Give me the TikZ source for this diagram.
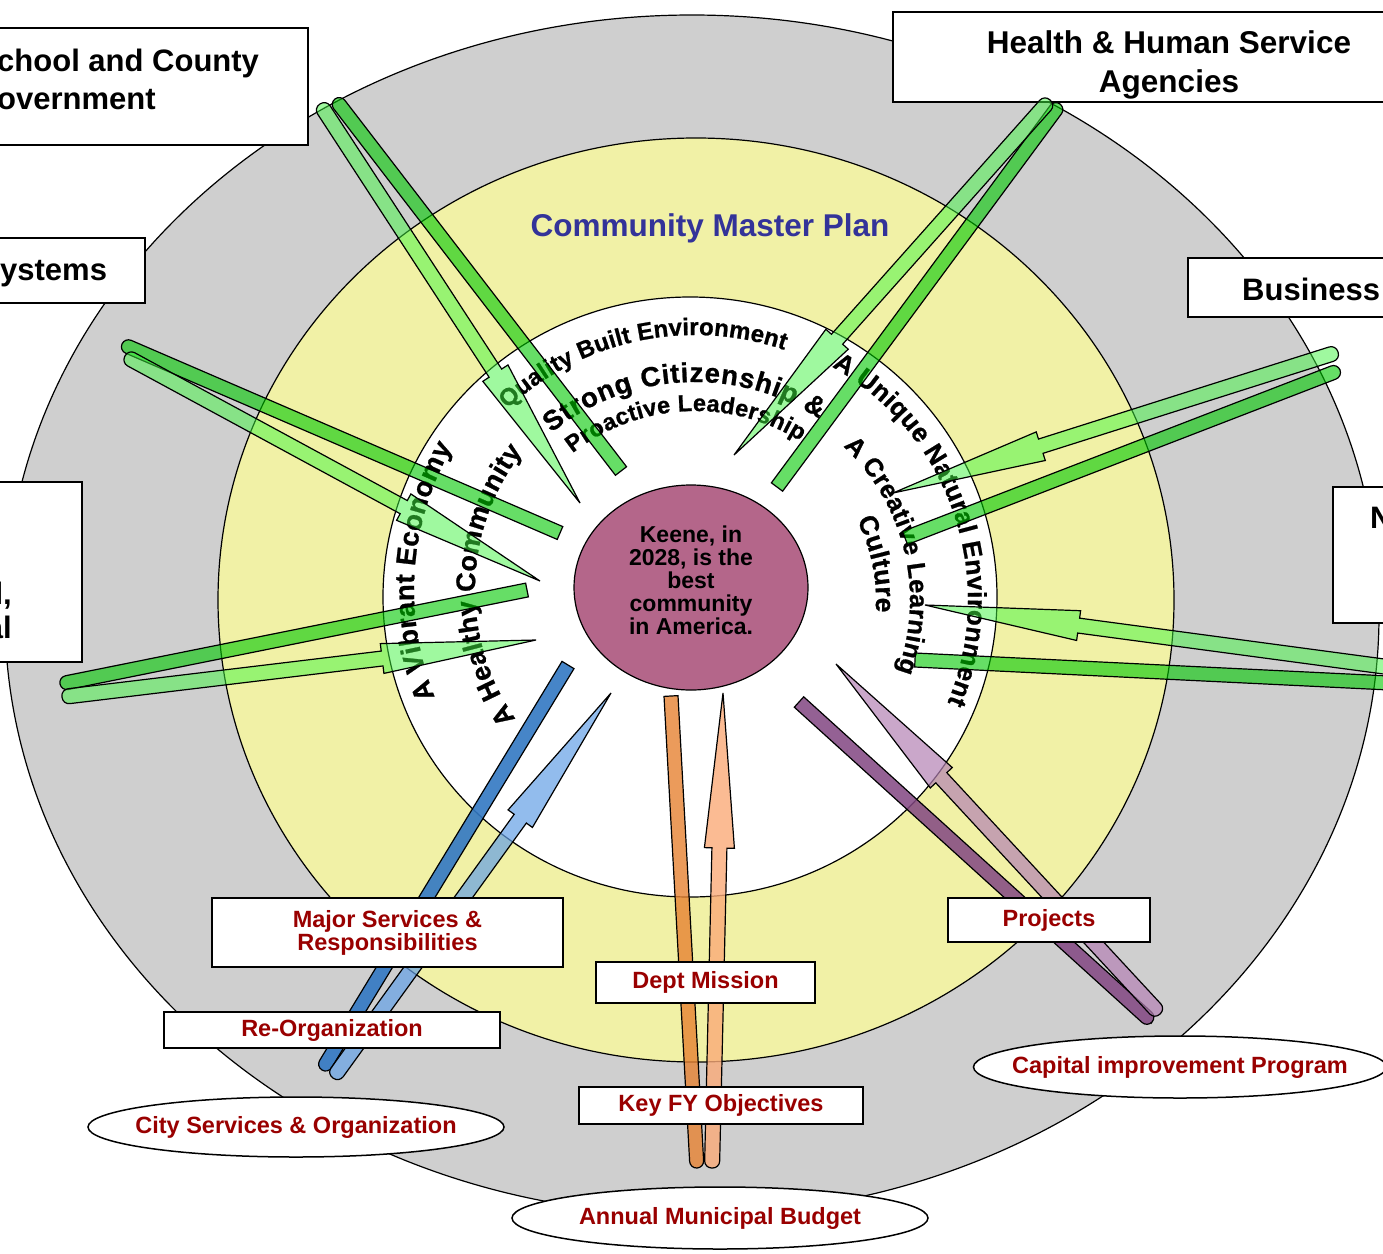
\documentclass[tikz,border=0pt]{standalone}
\usepackage{fontspec}
\setmainfont{Liberation Sans}
\newfontfamily\ringfamily[BoldFeatures={FakeBold=0.9}]{Liberation Sans}
\usetikzlibrary{shapes.geometric, calc, decorations.text}

\definecolor{outergray}{RGB}{207,207,207}
\definecolor{planyellow}{RGB}{241,241,166}
\definecolor{visionpink}{RGB}{180,102,138}
\definecolor{titleblue}{RGB}{51,51,153}
\definecolor{labelred}{RGB}{153,0,0}
\definecolor{ribbongreen}{RGB}{0,200,0}
\definecolor{ribbonlime}{RGB}{64,245,64}
\definecolor{ribbonblue}{RGB}{50,120,195}
\definecolor{ribbonsky}{RGB}{100,160,230}
\definecolor{ribbonorange}{RGB}{230,130,50}
\definecolor{ribbonpeach}{RGB}{250,170,120}
\definecolor{ribbonplum}{RGB}{130,70,130}
\definecolor{ribbonlilac}{RGB}{180,130,180}

\newcommand{\ringtext}[6]{%
	\path[shift={(#1)}, decorate, decoration={text along path, text align=fit to path,
		text={|\ringfamily\fontsize{#5}{#5}\selectfont\bfseries|#6}}]
		plot[domain=0:1, samples=60, variable=\t] ({#2*cos(#3+(#4-#3)*\t)}, {-#2*sin(#3+(#4-#3)*\t)});
}

\newcommand{\ribbon}[6]{%
	\path[#5] ($(#1)!7pt!90:(#2)$) [rounded corners=7pt] -- ($(#2)!7pt!-90:(#1)$)
		-- ($(#2)!7pt!90:(#1)$) [sharp corners] -- ($(#1)!7pt!-90:(#2)$) -- cycle;
	\coordinate (headbase) at ($(#4)!155pt!(#3)$);
	\path[#6] ($(headbase)!7.5pt!90:(#4)$) -- ($(headbase)!15pt!90:(#4)$) -- (#4)
		-- ($(headbase)!15pt!-90:(#4)$) -- ($(headbase)!7.5pt!-90:(#4)$)
		[rounded corners=7pt] -- ($(#3)!7.5pt!-90:(#4)$) -- ($(#3)!7.5pt!90:(#4)$) [sharp corners] -- cycle;
}

\begin{document}
\begin{tikzpicture}[x=1pt, y=-1pt,
	plate/.style={draw, line width=1.2pt},
	outerbox/.style={draw, fill=white, line width=1.5pt, inner sep=0pt},
	bigtext/.style={inner sep=0pt, font=\fontsize{31}{38}\selectfont\bfseries},
	redbox/.style={draw, fill=white, line width=1.5pt, inner sep=0pt, text=labelred, align=center,
		font=\fontsize{23.5}{23}\selectfont\bfseries},
	redoval/.style={redbox, ellipse, inner xsep=-30pt},
	greenstrand/.style={draw, line width=1.2pt, fill=ribbongreen, fill opacity=0.6},
	limestrand/.style={draw, line width=1.2pt, fill=ribbonlime, fill opacity=0.5},
	bluestrand/.style={draw, line width=1.2pt, fill=ribbonblue, fill opacity=0.9},
	skystrand/.style={draw, line width=1.2pt, fill=ribbonsky, fill opacity=0.7},
	orangestrand/.style={draw, line width=1.2pt, fill=ribbonorange, fill opacity=0.8},
	peachstrand/.style={draw, line width=1.2pt, fill=ribbonpeach, fill opacity=0.8},
	plumstrand/.style={draw, line width=1.2pt, fill=ribbonplum, fill opacity=0.85},
	lilacstrand/.style={draw, line width=1.2pt, fill=ribbonlilac, fill opacity=0.7}]

	\useasboundingbox (0,0) rectangle (1383,1253);
	\clip (0,0) rectangle (1383,1253);
	\fill[white] (0,0) rectangle (1383,1253);

	\draw[plate, fill=outergray] (692,615) ellipse [x radius=687pt, y radius=600pt];
	\draw[plate, fill=planyellow] (696,600) ellipse [x radius=478pt, y radius=462pt];
	\draw[plate, fill=white] (690,597) ellipse [x radius=307pt, y radius=300pt];

	\node[inner sep=0pt, anchor=base, text=titleblue, font=\fontsize{31.5}{31.5}\selectfont\bfseries]
		(masterplan) at (710,236) {Community Master Plan};

	\ringtext{695,610}{275}{133}{71}{24}{Quality Built Environment}
	\ringtext{695,610}{228}{129}{57}{27.5}{Strong Citizenship {\&}}
	\ringtext{695,610}{199}{128}{58}{23.5}{Proactive Leadership}
	\ringtext{700,590}{286}{202}{150}{27.5}{A Vibrant Economy}
	\ringtext{700,590}{225}{215}{142}{27}{A Healthy Community}
	\ringtext{700,600}{268}{60.5}{-22.6}{26}{A Unique Natural Environment}
	\ringtext{700,600}{210}{47}{-20}{25.5}{A Creative Learning}
	\ringtext{700,600}{176}{27}{-4}{26.5}{Culture}

	\node[ellipse, draw, line width=1.2pt, fill=visionpink, inner sep=0pt,
		minimum width=234pt, minimum height=205pt] (vision) at (691,587.5) {};
	\node[inner sep=0pt, align=center, font=\fontsize{23}{23}\selectfont\bfseries]
		(visiontext) at (691,580) {Keene, in\\2028, is the\\best\\community\\in America.};

	\node[outerbox, minimum width=318pt, minimum height=117pt] (school) at (149,86.5) {};
	\node[outerbox, minimum width=155pt, minimum height=65pt] (systems) at (67.5,270.5) {};
	\node[outerbox, minimum width=92pt, minimum height=180pt] (regional) at (36,572) {};
	\node[outerbox, minimum width=552pt, minimum height=90pt] (health) at (1169,57) {};
	\node[outerbox, minimum width=252pt, minimum height=59pt] (business) at (1314,287.5) {};
	\node[outerbox, minimum width=107pt, minimum height=136pt] (nbox) at (1386.5,555) {};

	\node[bigtext, anchor=north west, align=left] (schooltext) at (-3,48.4) {chool and County\\overnment};
	\node[bigtext, anchor=base west] (systemstext) at (0,280) {ystems};
	\node[bigtext, anchor=north east, align=right, font=\fontsize{31}{34}\selectfont\bfseries]
		(regionaltext) at (12,582) {l,\\al};
	\node[bigtext, anchor=north, align=center, font=\fontsize{31.5}{39}\selectfont\bfseries]
		(healthtext) at (1169,30.4) {Health \& Human Service\\Agencies};
	\node[bigtext, anchor=base west] (businesstext) at (1242,300) {Business};
	\node[bigtext, anchor=base west] (ntext) at (1370,528) {N};

	\coordinate (schoolend) at (621,471);
	\coordinate (schooltip) at (335,99);
	\coordinate (schoolturn) at (320,104);
	\coordinate (schoolhead) at (580,503);
	\ribbon{schoolend}{schooltip}{schoolturn}{schoolhead}{greenstrand}{limestrand}

	\coordinate (healthend) at (777,487);
	\coordinate (healthtip) at (1060,104);
	\coordinate (healthturn) at (1050,100);
	\coordinate (healthhead) at (734,455);
	\ribbon{healthend}{healthtip}{healthturn}{healthhead}{greenstrand}{limestrand}

	\coordinate (businessend) at (905,538);
	\coordinate (businesstip) at (1340,370);
	\coordinate (businessturn) at (1338,352);
	\coordinate (businesshead) at (893,493);
	\ribbon{businessend}{businesstip}{businessturn}{businesshead}{greenstrand}{limestrand}

	\coordinate (nend) at (915,660);
	\coordinate (ntip) at (1410,684);
	\coordinate (nturn) at (1410,670);
	\coordinate (nhead) at (925,605);
	\ribbon{nend}{ntip}{nturn}{nhead}{greenstrand}{limestrand}

	\coordinate (systemsend) at (560,533);
	\coordinate (systemstip) at (122,344);
	\coordinate (systemsturn) at (125,356);
	\coordinate (systemshead) at (540,581);
	\ribbon{systemsend}{systemstip}{systemsturn}{systemshead}{greenstrand}{limestrand}

	\coordinate (regionalend) at (527,590);
	\coordinate (regionaltip) at (60,684);
	\coordinate (regionalturn) at (62,697);
	\coordinate (regionalhead) at (536,640);
	\ribbon{regionalend}{regionaltip}{regionalturn}{regionalhead}{greenstrand}{limestrand}

	\coordinate (cityend) at (568,665);
	\coordinate (citytip) at (322,1070);
	\coordinate (cityturn) at (333,1078);
	\coordinate (cityhead) at (611,693);
	\ribbon{cityend}{citytip}{cityturn}{cityhead}{bluestrand}{skystrand}

	\coordinate (budgetend) at (671,696);
	\coordinate (budgettip) at (697,1168);
	\coordinate (budgetturn) at (712,1168);
	\coordinate (budgethead) at (723,693);
	\ribbon{budgetend}{budgettip}{budgetturn}{budgethead}{orangestrand}{peachstrand}

	\coordinate (capitalend) at (799,702);
	\coordinate (capitaltip) at (1152,1022);
	\coordinate (capitalturn) at (1160,1014);
	\coordinate (capitalhead) at (836,664);
	\ribbon{capitalend}{capitaltip}{capitalturn}{capitalhead}{plumstrand}{lilacstrand}

	\node[redbox, minimum width=351pt, minimum height=69pt] (majorservices) at (387.5,932.5) {Major Services \&\\Responsibilities};
	\node[redbox, minimum width=336pt, minimum height=36pt] (reorganization) at (332,1030) {Re-Organization};
	\node[redbox, minimum width=219pt, minimum height=41pt] (deptmission) at (705.5,982.5) {Dept Mission};
	\node[redbox, minimum width=284pt, minimum height=37pt] (keyobjectives) at (721,1105.5) {Key FY Objectives};
	\node[redbox, minimum width=202pt, minimum height=44pt] (projects) at (1049,920) {Projects};
	\node[redoval, minimum width=416pt, minimum height=60pt] (cityservices) at (296,1127) {City Services \& Organization};
	\node[redoval, minimum width=416pt, minimum height=62pt] (budget) at (720,1218) {Annual Municipal Budget};
	\node[redoval, minimum width=413pt, minimum height=62pt] (capital) at (1180,1067) {Capital improvement Program};
\end{tikzpicture}
\end{document}
